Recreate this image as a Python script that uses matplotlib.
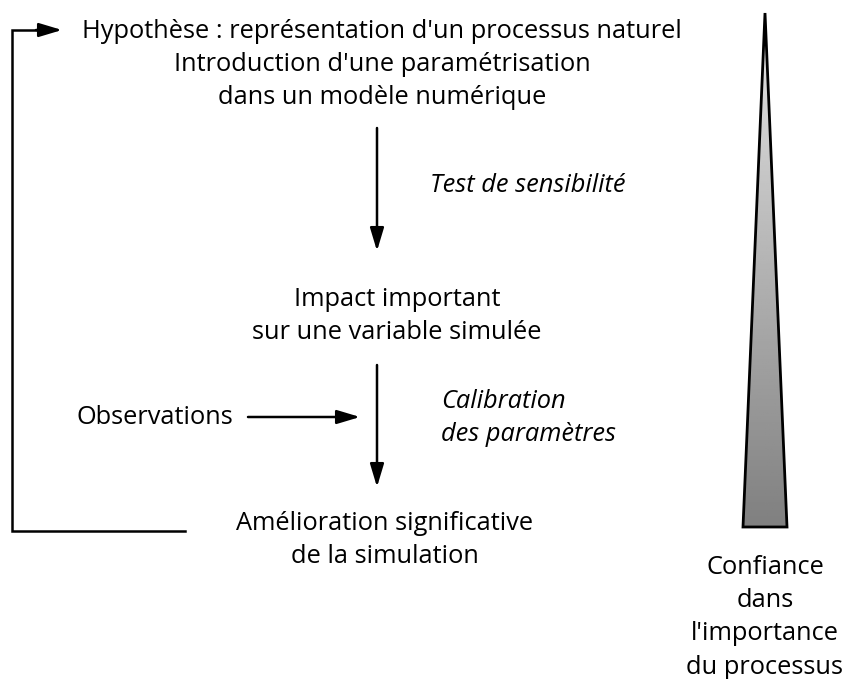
import matplotlib.pyplot as plt
import numpy as np
from matplotlib.patches import Polygon

# Texts of the diagram
HYPOTHESE = ["Hypothèse : représentation d'un processus naturel",
             "Introduction d'une paramétrisation",
             "dans un modèle numérique"]
TEST = "Test de sensibilité"
IMPACT = ["Impact important", "sur une variable simulée"]
OBS = "Observations"
CALIB = ["Calibration", "des paramètres"]
AMELIORATION = ["Amélioration significative", "de la simulation"]
CONFIANCE = ["Confiance", "dans", "l'importance", "du processus"]

plt.rcParams["font.family"] = ["Open Sans", "DejaVu Sans"]
FS = 18.3
LINE = 33.5

fig = plt.figure(figsize=(8.44, 6.79), dpi=100)
ax = fig.add_axes([0, 0, 1, 1])
ax.set_xlim(0, 844)
ax.set_ylim(679, 0)
ax.axis("off")


def block(lines, x, y0, ha="center", style="normal"):
    for i, s in enumerate(lines):
        ax.text(x, y0 + i * LINE, s, ha=ha, va="center", fontsize=FS, style=style)


def arrow(x0, y0, x1, y1):
    ax.annotate("", xy=(x1, y1), xytext=(x0, y0),
                arrowprops=dict(arrowstyle="-|>,head_length=1.4,head_width=0.42",
                                color="black", lw=1.8, shrinkA=0, shrinkB=0))


block(HYPOTHESE, 382, 31)
arrow(377, 128, 377, 251)
ax.text(430, 186, TEST, ha="left", va="center", fontsize=FS, style="italic")
block(IMPACT, 397, 299)
arrow(377, 365, 377, 487)
ax.text(155, 417, OBS, ha="center", va="center", fontsize=FS)
arrow(248, 417, 360, 417)
block(CALIB, 441, 401, ha="left", style="italic")
block(AMELIORATION, 385, 523)

# feedback loop
ax.plot([185, 12, 12, 40], [531, 531, 30, 30], color="black", lw=1.8,
        solid_joinstyle="miter")
arrow(36, 30, 62, 30)

# confidence wedge with gradient
apex, base_y, half = (765, 13), 527, 22
tri = [apex, (765 - half, base_y), (765 + half, base_y)]
grad = np.linspace(0.9, 0.5, 256).reshape(-1, 1)
im = ax.imshow(grad, cmap="gray", vmin=0, vmax=1, aspect="auto",
               extent=(765 - half, 765 + half, base_y, apex[1]), zorder=2)
poly = Polygon(tri, closed=True, facecolor="none", edgecolor="black", lw=2,
               joinstyle="miter", zorder=3)
ax.add_patch(poly)
im.set_clip_path(poly)
ax.set_xlim(0, 844)
ax.set_ylim(679, 0)
block(CONFIANCE, 765, 567)

fig.savefig("out.png", dpi=100)
